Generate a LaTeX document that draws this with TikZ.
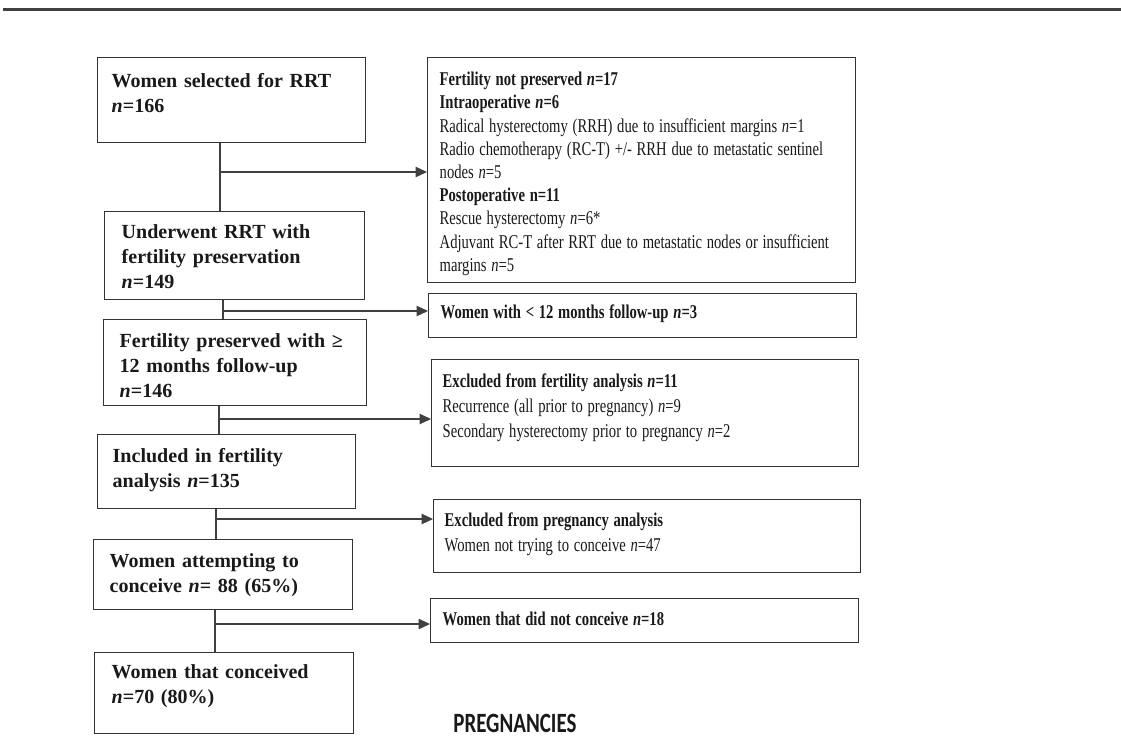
\documentclass[tikz,border=0pt]{standalone}
\usepackage{fontspec}
\setmainfont{Liberation Serif}
\newfontfamily\narrowserif{Liberation Serif}[FakeStretch=0.75]
\newfontfamily\narrowsans{Carlito}[FakeStretch=0.75]
\usetikzlibrary{arrows.meta,calc}

\begin{document}
\begin{tikzpicture}[x=0.02cm, y=-0.02cm,
  lbox/.style={draw=black!80, line width=0.8pt, anchor=north west, inner ysep=0pt, text=black!90, font=\bfseries\fontsize{11.4}{14.2}\selectfont},
  rbox/.style={draw=black!80, line width=0.8pt, anchor=north west, inner ysep=0pt, inner xsep=0.24cm, text width=8.08cm, text=black!90, font=\narrowserif\fontsize{11.1}{14.2}\selectfont, execute at begin node={\spaceskip=2.7pt plus 1.5pt minus 0.5pt\xspaceskip=2.7pt plus 1.5pt\relax}},
  link/.style={black!75, line width=0.6pt},
  arr/.style={link, -{Triangle[length=2.3mm, width=2.1mm]}}]
\useasboundingbox (0,0) rectangle (1121,741);
\draw[black!75, line width=1.7pt] (3,9.5) -- (1121,9.5);

\node[lbox, inner xsep=0.28cm, text width=4.80cm, text height=0.60cm, text depth=1.10cm] (sel) at (97,57) {Women selected for RRT\\\textit{n}=166};
\node[lbox, inner xsep=0.34cm, text width=4.52cm, text height=0.54cm, text depth=1.22cm] (rrt) at (104,211) {Underwent RRT with\\fertility preservation\\\textit{n}=149};
\node[lbox, inner xsep=0.32cm, text width=4.62cm, text height=0.56cm, text depth=1.16cm] (pres) at (103,319) {Fertility preserved with ≥\\12 months follow-up\\\textit{n}=146};
\node[lbox, inner xsep=0.30cm, text width=4.56cm, text height=0.56cm, text depth=0.92cm] (incl) at (97,434) {Included in fertility\\analysis \textit{n}=135};
\node[lbox, inner xsep=0.32cm, text width=4.54cm, text height=0.56cm, text depth=0.84cm] (att) at (93,539) {Women attempting to\\conceive \textit{n}= 88 (65\%)};
\node[lbox, inner xsep=0.34cm, text width=4.50cm, text height=0.52cm, text depth=1.10cm] (conc) at (94,652) {Women that conceived\\\textit{n}=70 (80\%)};

\node[rbox, font=\narrowserif\fontsize{11.1}{13.2}\selectfont, text height=0.56cm, text depth=3.94cm] (notpres) at (427,57) {\textbf{Fertility not preserved \textit{n}=17}\\
\textbf{Intraoperative \textit{n}=6}\\
Radical hysterectomy (RRH) due to insufficient margins \textit{n}=1\\
Radio chemotherapy (RC-T) +/- RRH due to metastatic sentinel\\
nodes \textit{n}=5\\
\textbf{Postoperative n=11}\\
Rescue hysterectomy \textit{n}=6*\\
Adjuvant RC-T after RRT due to metastatic nodes or insufficient\\
margins \textit{n}=5};
\node[rbox, text height=0.50cm, text depth=0.38cm] (short) at (428,293) {\textbf{Women with < 12 months follow-up \textit{n}=3}};
\node[rbox, inner xsep=0.22cm, text width=8.10cm, text height=0.56cm, text depth=1.58cm] (exfert) at (431,359) {\textbf{Excluded from fertility analysis \textit{n}=11}\\Recurrence (all prior to pregnancy) \textit{n}=9\\Secondary hysterectomy prior to pregnancy \textit{n}=2};
\node[rbox, inner xsep=0.22cm, text width=8.10cm, text height=0.54cm, text depth=0.92cm] (expreg) at (433,499) {\textbf{Excluded from pregnancy analysis}\\Women not trying to conceive \textit{n}=47};
\node[rbox, text height=0.54cm, text depth=0.34cm] (notconc) at (430,598) {\textbf{Women that did not conceive \textit{n}=18}};

\node[anchor=base west, inner sep=0pt, text=black!90, font=\narrowsans\bfseries\fontsize{15.9}{19}\selectfont] (preg) at (453,732) {PREGNANCIES};

\coordinate (j1) at (220,172);
\coordinate (j2) at (223,311);
\coordinate (j3) at (219,419);
\coordinate (j4) at (216,519);
\coordinate (j5) at (215,624);
\draw[link] (sel.south -| j1) -- (rrt.north -| j1);
\draw[arr] (j1) -- (j1 -| notpres.west);
\draw[link] (rrt.south -| j2) -- (pres.north -| j2);
\draw[arr] (j2) -- (j2 -| short.west);
\draw[link] (pres.south -| j3) -- (incl.north -| j3);
\draw[arr] (j3) -- (j3 -| exfert.west);
\draw[link] (incl.south -| j4) -- (att.north -| j4);
\draw[arr] (j4) -- (j4 -| expreg.west);
\draw[link] (att.south -| j5) -- (conc.north -| j5);
\draw[arr] (j5) -- (j5 -| notconc.west);
\end{tikzpicture}
\end{document}
